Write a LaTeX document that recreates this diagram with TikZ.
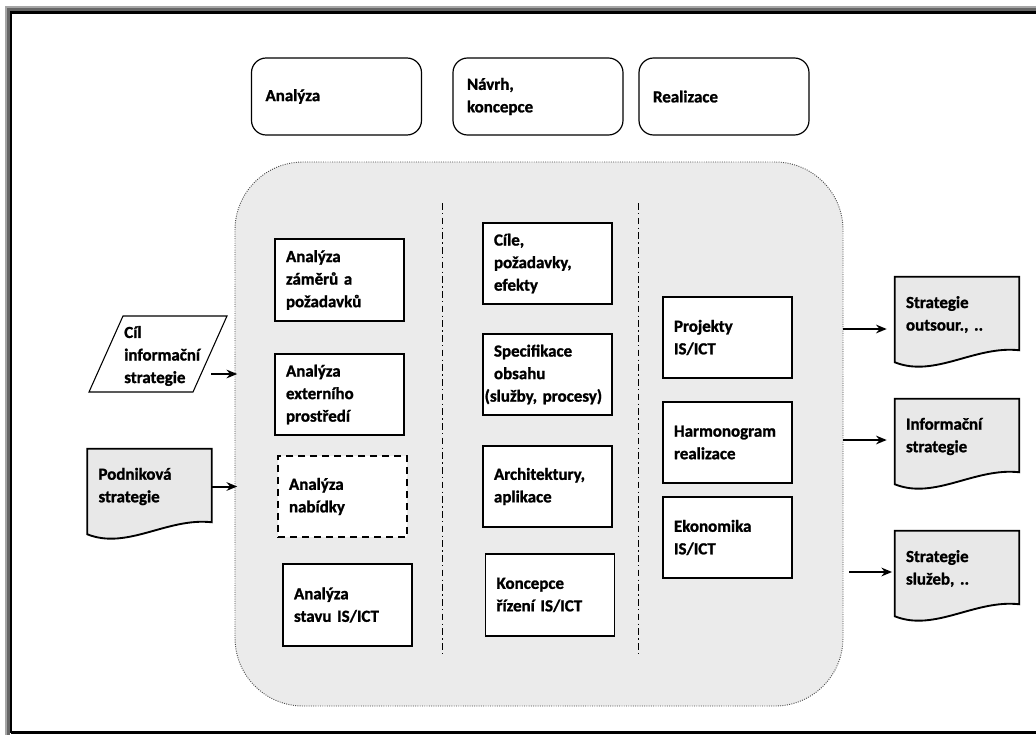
\documentclass[tikz,border=0pt]{standalone}
\usepackage{fontspec}
\setmainfont{Carlito}[BoldFeatures={FakeBold=1.3}]
\usepackage{tikz}
\usetikzlibrary{arrows.meta, calc, backgrounds}

\begin{document}
\begin{tikzpicture}[x=0.75pt, y=-0.75pt,
  every node/.style={font=\bfseries\fontsize{12.7}{16.9}\selectfont},
  etapa/.style={draw, line width=0.9pt, rounded corners=11pt, minimum width=127.5pt,
    minimum height=57.75pt, text width=106.5pt, inner xsep=10.5pt, align=left},
  krabice/.style={draw, line width=1.4pt, fill=white, minimum width=96.75pt,
    minimum height=61pt, text width=80.25pt, inner xsep=8.25pt, align=left},
  dokument/.style={minimum width=93pt, minimum height=56.25pt, text width=76.5pt,
    inner xsep=8.25pt, align=left},
  sipka/.style={-{Stealth[length=8pt, width=6.5pt]}, line width=1.5pt}]
\useasboundingbox (0,0) rectangle (1036,735);
% ramecek
\draw[line width=1.2pt, black!35] (6,735) |- (1036,7);
\draw[line width=2.2pt, black!60] (8.5,735) |- (1036,9.5);
\draw[line width=2pt] (11,732.5) |- (1036,12.5);
\draw[line width=2pt] (11,732.5) -- (1036,732.5);
% etapy
\node[etapa] (analyza) at (336.5,96.5) {Analýza};
\node[etapa] (navrh) at (538,96.5) {Návrh,\\koncepce};
\node[etapa] (realizace) at (724,96.5) {Realizace};
% panel
\node[draw=black!70, densely dotted, line width=0.7pt, fill=black!8, rounded corners=51pt,
  minimum width=456pt, minimum height=408pt] (panel) at (539,434) {};
\draw[line width=0.6pt, dash pattern=on 5pt off 2.5pt on 1pt off 2.5pt] (442,203) -- (442,657);
\draw[line width=0.6pt, dash pattern=on 5pt off 2.5pt on 1pt off 2.5pt] (638,203) -- (638,657);
% analyza
\node[krabice] (zamery) at (339.5,280) {Analýza\\záměrů a\\požadavků};
\node[krabice] (externi) at (339.5,394.5) {Analýza\\externího\\prostředí};
\node[krabice, dash pattern=on 5.5pt off 3.5pt] (nabidka) at (342.5,496.5) {Analýza\\nabídky};
\node[krabice] (stav) at (347.5,605) {Analýza\\stavu IS/ICT};
% navrh
\node[krabice] (cile) at (547.5,263.5) {Cíle,\\požadavky,\\efekty};
\node[krabice] (obsah) at (547.5,374.5) {Specifikace\\obsahu\\\hspace*{-7pt}\mbox{(služby, procesy)}};
\node[krabice] (architektura) at (547.5,486.5) {Architektury,\\aplikace};
\node[krabice] (rizeni) at (550,595) {Koncepce\\řízení IS/ICT};
% realizace
\node[krabice] (projekty) at (727.5,337.5) {Projekty\\IS/ICT};
\node[krabice] (harmonogram) at (727.5,442.5) {Harmonogram\\realizace};
\node[krabice] (ekonomika) at (727.5,537.5) {Ekonomika\\IS/ICT};
% vstupy
\draw[line width=0.8pt] (123,316) -- (227,316) -- (193,392) -- (89,392) -- cycle;
\node[anchor=west, align=left, inner sep=0pt] (cil) at (124,356) {Cíl\\informační\\strategie};
\node[dokument, minimum width=90.75pt] (podnik) at (149.5,486.5) {Podniková\\strategie};
% vystupy
\node[dokument] (outsour) at (957,314.5) {Strategie\\outsour., ..};
\node[dokument] (infostrat) at (957,436.5) {Informační\\strategie};
\node[dokument] (sluzby) at (957,568.5) {Strategie\\služeb, ..};
\begin{scope}[on background layer]
\foreach \d in {podnik, outsour, infostrat, sluzby}
  \draw[line width=1.4pt, fill=black!9] (\d.north west) -- (\d.north east)
    -- ($(\d.south east)+(0,-2)$) .. controls ($(\d.south west)+(80,-7)$) and ($(\d.south west)+(40,26)$)
    .. ($(\d.south west)+(0,10)$) -- cycle;
\end{scope}
% sipky
\coordinate (c1) at (211,374);
\draw[sipka] (c1) -- ([xshift=2pt]c1 -| panel.west);
\draw[sipka] (podnik.east) -- ([xshift=2pt]podnik.east -| panel.west);
\coordinate (z1) at (843,329);
\coordinate (z2) at (843,440);
\coordinate (z3) at (849,572);
\draw[sipka, shorten >=6pt] (z1) -- (z1 -| outsour.west);
\draw[sipka, shorten >=6pt] (z2) -- (z2 -| infostrat.west);
\draw[sipka, shorten >=2pt] (z3) -- (z3 -| sluzby.west);
\end{tikzpicture}
\end{document}
